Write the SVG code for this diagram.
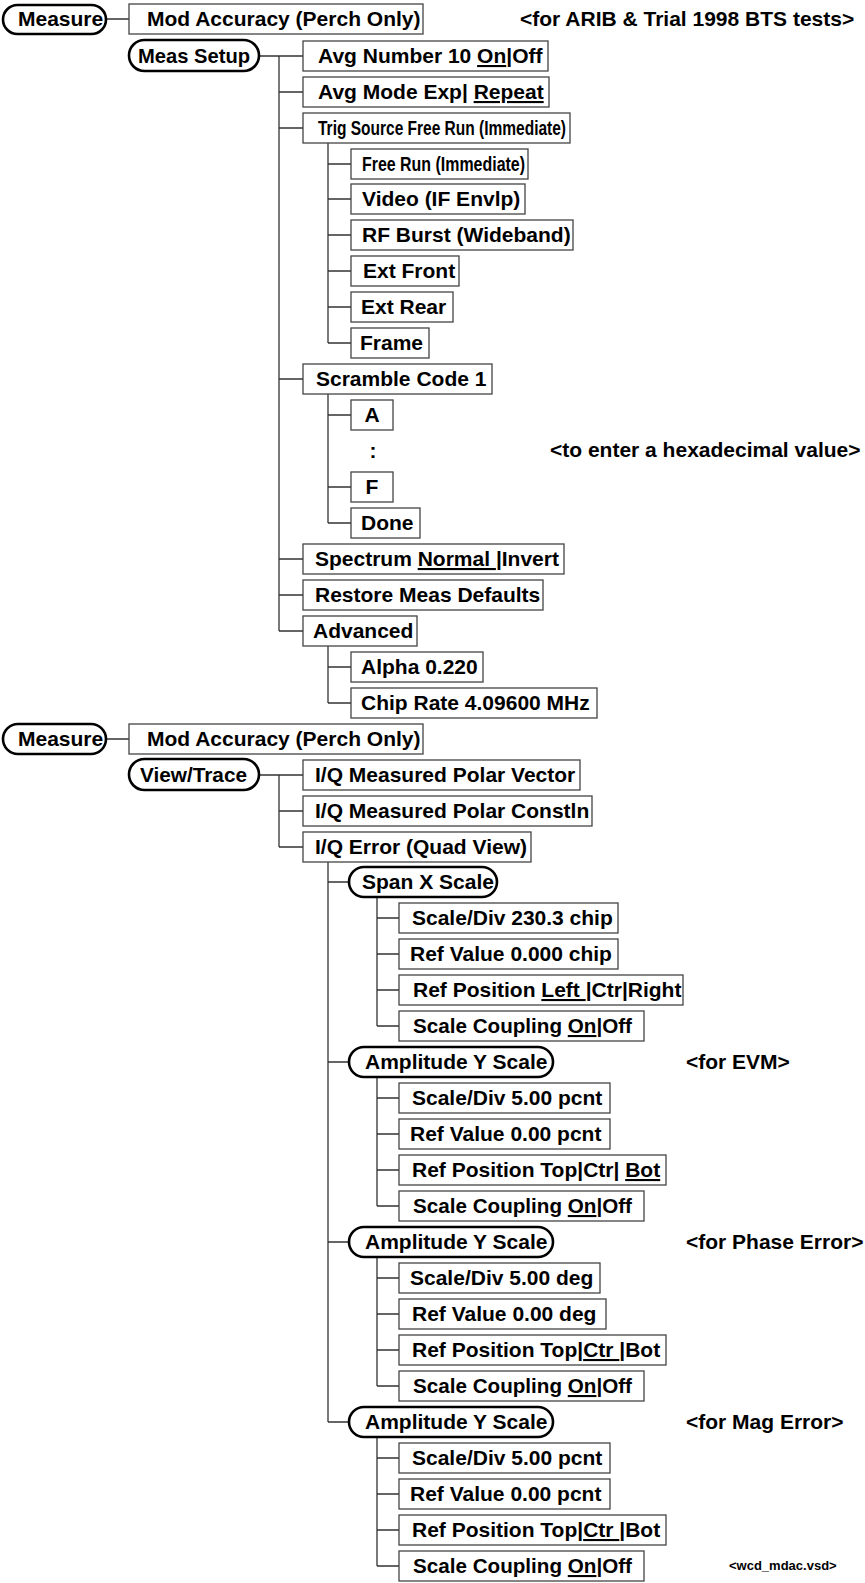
<svg xmlns="http://www.w3.org/2000/svg" width="865" height="1583" viewBox="0 0 865 1583">
<style>
.b{fill:#fff;stroke:#444;stroke-width:1.3}
.p{fill:#fff;stroke:#000;stroke-width:2.6}
.c{fill:none;stroke:#333;stroke-width:1.3}
text{font-family:"Liberation Sans",Arial,Helvetica,sans-serif;font-weight:bold;font-size:21px;fill:#000}
.u{text-decoration:underline}
.s{font-size:13px}
</style>
<rect width="865" height="1583" fill="#fff"/>
<g id="connectors">
<path class="c" d="M106,19H129 M259,56H303 M279,56V631 M279,92H303 M279,128H303 M279,379H303 M279,559H303 M279,595H303 M279,631H303
M328,143V343 M328,164H351 M328,199H351 M328,235H351 M328,271H351 M328,307H351 M328,343H351
M328,394V523 M328,415H351 M328,487H351 M328,523H351
M328,646V703 M328,667H351 M328,703H351
M106,739H129 M259,775H303 M279,775V847 M279,811H303 M279,847H303
M328,862V1422 M328,882H349 M328,1062H349 M328,1242H349 M328,1422H349
M377,897V1026 M377,918H399 M377,954H399 M377,990H399 M377,1026H399
M377,1077V1206 M377,1098H399 M377,1134H399 M377,1170H399 M377,1206H399
M377,1257V1386 M377,1278H399 M377,1314H399 M377,1350H399 M377,1386H399
M377,1437V1566 M377,1458H399 M377,1494H399 M377,1530H399 M377,1566H399"/>
</g>
<g id="measure1"><rect class="p" x="3" y="5" width="103" height="29" rx="14.5"/><text x="18" y="26">Measure</text></g>
<g id="modacc1"><rect class="b" x="129" y="4" width="294" height="30"/><text x="147" y="26">Mod Accuracy (Perch Only)</text></g>
<g id="note-arib"><text x="520" y="26">&lt;for ARIB &amp; Trial 1998 BTS tests&gt;</text></g>
<g id="meassetup"><rect class="p" x="129" y="40" width="130" height="31" rx="15.5"/><text x="138" y="63" textLength="112" lengthAdjust="spacingAndGlyphs">Meas Setup</text></g>
<g id="avgnum"><rect class="b" x="303" y="41" width="245" height="30"/><text x="318" y="63">Avg Number 10 <tspan class="u">On</tspan>|Off</text></g>
<g id="avgmode"><rect class="b" x="303" y="77" width="246" height="30"/><text x="318" y="99">Avg Mode Exp| <tspan class="u">Repeat</tspan></text></g>
<g id="trig"><rect class="b" x="303" y="113" width="267" height="30"/><text x="318" y="135" textLength="248" lengthAdjust="spacingAndGlyphs">Trig Source Free Run (Immediate)</text></g>
<g id="freerun"><rect class="b" x="351" y="149" width="177" height="30"/><text x="362" y="171" textLength="163" lengthAdjust="spacingAndGlyphs">Free Run (Immediate)</text></g>
<g id="video"><rect class="b" x="351" y="184" width="174" height="30"/><text x="362" y="206">Video (IF Envlp)</text></g>
<g id="rfburst"><rect class="b" x="351" y="220" width="222" height="30"/><text x="362" y="242">RF Burst (Wideband)</text></g>
<g id="extfront"><rect class="b" x="351" y="256" width="108" height="30"/><text x="363" y="278">Ext Front</text></g>
<g id="extrear"><rect class="b" x="351" y="292" width="102" height="30"/><text x="361" y="314">Ext Rear</text></g>
<g id="frame"><rect class="b" x="351" y="328" width="78" height="30"/><text x="360" y="350">Frame</text></g>
<g id="scramble"><rect class="b" x="303" y="364" width="189" height="30"/><text x="316" y="386">Scramble Code 1</text></g>
<g id="hexA"><rect class="b" x="351" y="400" width="42" height="30"/><text x="372" y="422" text-anchor="middle">A</text></g>
<g id="hexdots"><text x="373" y="458" text-anchor="middle">:</text></g>
<g id="note-hex"><text x="550" y="457">&lt;to enter a hexadecimal value&gt;</text></g>
<g id="hexF"><rect class="b" x="351" y="472" width="42" height="30"/><text x="372" y="494" text-anchor="middle">F</text></g>
<g id="done"><rect class="b" x="351" y="508" width="69" height="30"/><text x="361" y="530">Done</text></g>
<g id="spectrum"><rect class="b" x="303" y="544" width="261" height="30"/><text x="315" y="566">Spectrum <tspan class="u">Normal </tspan>|Invert</text></g>
<g id="restore"><rect class="b" x="303" y="580" width="240" height="30"/><text x="315" y="602">Restore Meas Defaults</text></g>
<g id="advanced"><rect class="b" x="303" y="616" width="114" height="30"/><text x="313" y="638">Advanced</text></g>
<g id="alpha"><rect class="b" x="351" y="652" width="132" height="30"/><text x="361" y="674">Alpha 0.220</text></g>
<g id="chiprate"><rect class="b" x="351" y="688" width="246" height="30"/><text x="361" y="710">Chip Rate 4.09600 MHz</text></g>
<g id="measure2"><rect class="p" x="3" y="724" width="103" height="30" rx="15"/><text x="18" y="746">Measure</text></g>
<g id="modacc2"><rect class="b" x="129" y="724" width="294" height="30"/><text x="147" y="746">Mod Accuracy (Perch Only)</text></g>
<g id="viewtrace"><rect class="p" x="129" y="759" width="130" height="31" rx="15.5"/><text x="140" y="782" textLength="107" lengthAdjust="spacingAndGlyphs">View/Trace</text></g>
<g id="vector"><rect class="b" x="303" y="760" width="277" height="30"/><text x="315" y="782">I/Q Measured Polar Vector</text></g>
<g id="constln"><rect class="b" x="303" y="796" width="289" height="30"/><text x="315" y="818">I/Q Measured Polar Constln</text></g>
<g id="iqerror"><rect class="b" x="303" y="832" width="228" height="30"/><text x="315" y="854">I/Q Error (Quad View)</text></g>
<g id="spanx"><rect class="p" x="349" y="867" width="148" height="30" rx="15"/><text x="362" y="889">Span X Scale</text></g>
<g id="sx-sd"><rect class="b" x="399" y="903" width="219" height="30"/><text x="412" y="925">Scale/Div 230.3 chip</text></g>
<g id="sx-rv"><rect class="b" x="399" y="939" width="219" height="30"/><text x="410" y="961">Ref Value 0.000 chip</text></g>
<g id="sx-rp"><rect class="b" x="399" y="975" width="284" height="30"/><text x="413" y="997">Ref Position <tspan class="u">Left </tspan>|Ctr|Right</text></g>
<g id="sx-sc"><rect class="b" x="399" y="1011" width="245" height="30"/><text x="413" y="1033" textLength="219" lengthAdjust="spacingAndGlyphs">Scale Coupling <tspan class="u">On</tspan>|Off</text></g>
<g id="amp1"><rect class="p" x="349" y="1047" width="204" height="30" rx="15"/><text x="365" y="1069">Amplitude Y Scale</text></g>
<g id="note-evm"><text x="686" y="1069">&lt;for EVM&gt;</text></g>
<g id="a1-sd"><rect class="b" x="399" y="1083" width="211" height="30"/><text x="412" y="1105">Scale/Div 5.00 pcnt</text></g>
<g id="a1-rv"><rect class="b" x="399" y="1119" width="211" height="30"/><text x="410" y="1141">Ref Value 0.00 pcnt</text></g>
<g id="a1-rp"><rect class="b" x="399" y="1155" width="267" height="30"/><text x="412" y="1177">Ref Position Top|Ctr| <tspan class="u">Bot</tspan></text></g>
<g id="a1-sc"><rect class="b" x="399" y="1191" width="245" height="30"/><text x="413" y="1213" textLength="219" lengthAdjust="spacingAndGlyphs">Scale Coupling <tspan class="u">On</tspan>|Off</text></g>
<g id="amp2"><rect class="p" x="349" y="1227" width="204" height="30" rx="15"/><text x="365" y="1249">Amplitude Y Scale</text></g>
<g id="note-phase"><text x="686" y="1249">&lt;for Phase Error&gt;</text></g>
<g id="a2-sd"><rect class="b" x="399" y="1263" width="201" height="30"/><text x="410" y="1285">Scale/Div 5.00 deg</text></g>
<g id="a2-rv"><rect class="b" x="399" y="1299" width="207" height="30"/><text x="412" y="1321">Ref Value 0.00 deg</text></g>
<g id="a2-rp"><rect class="b" x="399" y="1335" width="267" height="30"/><text x="412" y="1357">Ref Position Top|<tspan class="u">Ctr </tspan>|Bot</text></g>
<g id="a2-sc"><rect class="b" x="399" y="1371" width="245" height="30"/><text x="413" y="1393" textLength="219" lengthAdjust="spacingAndGlyphs">Scale Coupling <tspan class="u">On</tspan>|Off</text></g>
<g id="amp3"><rect class="p" x="349" y="1407" width="204" height="30" rx="15"/><text x="365" y="1429">Amplitude Y Scale</text></g>
<g id="note-mag"><text x="686" y="1429">&lt;for Mag Error&gt;</text></g>
<g id="a3-sd"><rect class="b" x="399" y="1443" width="211" height="30"/><text x="412" y="1465">Scale/Div 5.00 pcnt</text></g>
<g id="a3-rv"><rect class="b" x="399" y="1479" width="211" height="30"/><text x="410" y="1501">Ref Value 0.00 pcnt</text></g>
<g id="a3-rp"><rect class="b" x="399" y="1515" width="267" height="30"/><text x="412" y="1537">Ref Position Top|<tspan class="u">Ctr </tspan>|Bot</text></g>
<g id="a3-sc"><rect class="b" x="399" y="1551" width="245" height="30"/><text x="413" y="1573" textLength="219" lengthAdjust="spacingAndGlyphs">Scale Coupling <tspan class="u">On</tspan>|Off</text></g>
<g id="note-file"><text class="s" x="729" y="1570">&lt;wcd_mdac.vsd&gt;</text></g>
</svg>
